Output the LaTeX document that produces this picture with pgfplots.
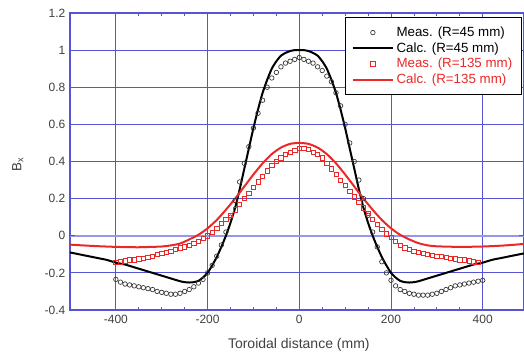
\documentclass[border=0pt]{standalone}
\usepackage{fontspec}
\setmainfont{Liberation Sans}
\usepackage{pgfplots}
\pgfplotsset{compat=1.18}
\usepackage{pgfplotstable}
\definecolor{gridblue}{RGB}{85,85,210}
\definecolor{zeroblue}{RGB}{150,150,235}
\definecolor{myred}{RGB}{235,40,40}

\pgfplotstableread{
x y
-400 -0.235
-390 -0.25
-380 -0.26
-370 -0.265
-360 -0.27
-350 -0.275
-340 -0.28
-330 -0.285
-320 -0.29
-310 -0.30
-300 -0.305
-290 -0.31
-280 -0.315
-270 -0.315
-260 -0.31
-250 -0.30
-240 -0.29
-230 -0.275
-220 -0.255
-210 -0.235
-200 -0.20
-190 -0.16
-180 -0.11
-170 -0.05
-160 0.02
-150 0.10
-140 0.19
-130 0.29
-120 0.39
-110 0.48
-100 0.58
-90 0.66
-80 0.73
-70 0.80
-60 0.85
-50 0.88
-40 0.91
-30 0.93
-20 0.94
-10 0.95
0 0.96
10 0.95
20 0.94
30 0.93
40 0.91
50 0.89
60 0.86
70 0.83
80 0.77
90 0.70
100 0.60
110 0.50
120 0.40
130 0.30
140 0.20
150 0.11
160 0.02
170 -0.06
180 -0.14
190 -0.20
200 -0.24
210 -0.27
220 -0.29
230 -0.30
240 -0.31
250 -0.315
260 -0.32
270 -0.32
280 -0.32
290 -0.315
300 -0.31
310 -0.30
320 -0.29
330 -0.28
340 -0.27
350 -0.265
360 -0.26
370 -0.255
380 -0.25
390 -0.245
400 -0.24
}\measA

\pgfplotstableread{
x y
-500 -0.09
-480 -0.10
-460 -0.11
-440 -0.12
-420 -0.13
-400 -0.145
-380 -0.155
-360 -0.17
-340 -0.185
-320 -0.20
-300 -0.215
-280 -0.23
-260 -0.245
-250 -0.25
-240 -0.252
-230 -0.25
-220 -0.243
-210 -0.225
-200 -0.20
-190 -0.16
-180 -0.115
-170 -0.06
-160 0.0
-150 0.07
-140 0.15
-130 0.25
-120 0.36
-110 0.47
-100 0.58
-90 0.68
-80 0.77
-70 0.84
-60 0.90
-50 0.94
-40 0.97
-30 0.985
-20 0.995
-10 1.0
0 1.0
10 1.0
20 0.995
30 0.985
40 0.97
50 0.94
60 0.90
70 0.84
80 0.77
90 0.68
100 0.58
110 0.47
120 0.36
130 0.25
140 0.15
150 0.07
160 0.0
170 -0.06
180 -0.115
190 -0.16
200 -0.20
210 -0.225
220 -0.243
230 -0.25
240 -0.252
250 -0.25
260 -0.245
280 -0.23
300 -0.215
320 -0.20
340 -0.185
360 -0.17
380 -0.155
400 -0.145
420 -0.13
440 -0.12
460 -0.11
490 -0.095
}\calcA

\pgfplotstableread{
x y
-400 -0.145
-390 -0.14
-380 -0.135
-370 -0.13
-360 -0.13
-350 -0.125
-340 -0.12
-330 -0.115
-320 -0.11
-310 -0.10
-300 -0.095
-290 -0.09
-280 -0.085
-270 -0.075
-260 -0.065
-250 -0.06
-240 -0.05
-230 -0.04
-220 -0.03
-210 -0.015
-200 0.0
-190 0.02
-180 0.04
-170 0.065
-160 0.09
-150 0.11
-140 0.14
-130 0.17
-120 0.20
-110 0.23
-100 0.26
-90 0.29
-80 0.32
-70 0.35
-60 0.38
-50 0.40
-40 0.42
-30 0.44
-20 0.45
-10 0.46
0 0.47
10 0.47
20 0.465
30 0.45
40 0.44
50 0.42
60 0.39
70 0.36
80 0.33
90 0.30
100 0.27
110 0.24
120 0.21
130 0.18
140 0.15
150 0.12
160 0.09
170 0.06
180 0.035
190 0.01
200 -0.01
210 -0.03
220 -0.05
230 -0.065
240 -0.075
250 -0.085
260 -0.09
270 -0.095
280 -0.10
290 -0.105
300 -0.11
310 -0.11
320 -0.115
330 -0.12
340 -0.125
350 -0.13
360 -0.13
370 -0.135
380 -0.14
390 -0.145
}\measB

\pgfplotstableread{
x y
-500 -0.048
-450 -0.055
-400 -0.06
-350 -0.062
-300 -0.058
-280 -0.052
-260 -0.042
-240 -0.02
-220 0.005
-200 0.04
-180 0.085
-160 0.14
-140 0.20
-120 0.265
-100 0.33
-80 0.39
-60 0.44
-40 0.475
-20 0.495
0 0.50
20 0.495
40 0.475
60 0.44
80 0.39
100 0.33
120 0.265
140 0.20
160 0.14
180 0.085
200 0.04
220 0.005
240 -0.02
260 -0.04
280 -0.052
300 -0.057
350 -0.06
400 -0.058
450 -0.052
490 -0.044
}\calcB

\begin{document}
\begin{tikzpicture}
\begin{axis}[
  at={(0,0)}, anchor=south west,
  scale only axis, width=340.5pt, height=222.75pt,
  xmin=-500, xmax=490, ymin=-0.4, ymax=1.2,
  xtick={-400,-200,0,200,400},
  ytick={-0.4,-0.2,0.2,0.4,0.6,0.8,1,1.2},
  extra y ticks={0},
  extra y tick style={ymajorgrids=true, major grid style={zeroblue, line width=1.8pt}},
  minor x tick num=3, minor y tick num=3,
  tick align=inside, major tick length=4pt, minor tick length=2.5pt,
  tick style={gridblue, line width=0.6pt},
  grid=major, major grid style={gridblue, line width=0.75pt},
  axis line style={gridblue, line width=0.9pt},
  ticklabel style={font=\fontsize{9}{10}\selectfont, text=black!75},
  /pgf/number format/assume math mode=true,
  xlabel={Toroidal distance (mm)},
  ylabel={B\textsubscript{x}},
  xlabel style={at={(axis description cs:0.504,-0.118)}, anchor=center, font=\fontsize{10.5}{12}\selectfont, text=black!75},
  ylabel style={at={(axis description cs:-0.115,0.49)}, anchor=center, font=\fontsize{10}{12}\selectfont, text=black!75},
  legend style={at={(0.996,0.987)}, anchor=north east, draw=black, line width=0.9pt,
    fill=white, font=\fontsize{10}{11}\selectfont, cells={anchor=west},
    row sep=-1pt, inner xsep=5pt, inner ysep=5pt},
  legend image code/.code={\draw[mark repeat=2,mark phase=2,#1] plot coordinates {(0pt,0pt) (15pt,0pt) (30pt,0pt)};},
]
\addplot[only marks, mark=o, mark size=1.7pt, mark options={black!80, line width=0.5pt}] table[x=x,y=y] {\measA};
\addlegendentry{Meas. (R=45 mm)}
\addplot[black, line width=1.5pt, smooth, tension=0.4] table[x=x,y=y] {\calcA};
\addlegendentry{Calc. (R=45 mm)}
\addplot[only marks, mark=square, mark size=1.6pt, mark options={myred, line width=0.5pt}] table[x=x,y=y] {\measB};
\addlegendentry[text=myred]{Meas. (R=135 mm)}
\addplot[myred, line width=1.5pt, smooth, tension=0.4] table[x=x,y=y] {\calcB};
\addlegendentry[text=myred]{Calc. (R=135 mm)}
\end{axis}
\pgfresetboundingbox
\path (-52.5pt,-31.5pt) rectangle (340.5pt,232.5pt);
\end{tikzpicture}
\end{document}
